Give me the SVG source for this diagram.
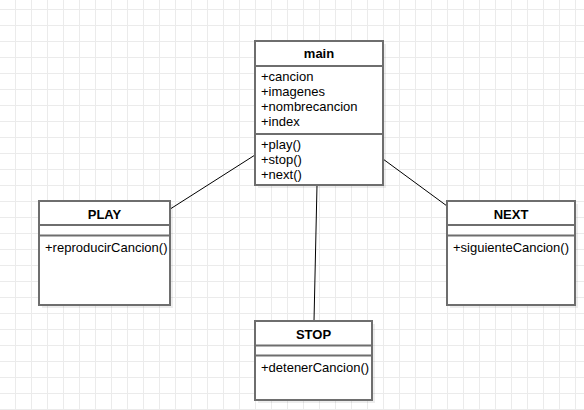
<svg xmlns="http://www.w3.org/2000/svg" width="584" height="410" viewBox="0 0 584 410">
  <defs>
    <pattern id="grid" patternUnits="userSpaceOnUse" x="15" y="9" width="16" height="16">
      <path d="M0 0.5 H16 M0.5 0 V16" fill="none" stroke="#ebebeb" stroke-width="1"/>
    </pattern>
    <style>
      .box { fill: #ffffff; stroke: #6e6e6e; stroke-width: 2; }
      .shadow { fill: #000000; fill-opacity: 0.07; stroke: none; }
      .sep { stroke: #6e6e6e; stroke-width: 2; fill: none; }
      .title { font-family: "Liberation Sans", Arial, sans-serif; font-size: 13px; font-weight: bold; fill: #000; text-anchor: middle; }
      .member { font-family: "Liberation Sans", Arial, sans-serif; font-size: 13px; fill: #000; }
      .conn { stroke: #000000; stroke-width: 1; fill: none; }
    </style>
  </defs>
  <rect x="0" y="0" width="584" height="410" fill="#ffffff"/>
  <rect x="0" y="0" width="584" height="410" fill="url(#grid)"/>

  <g id="connectors">
    <line class="conn" x1="255" y1="155" x2="171" y2="208.5"/>
    <line class="conn" x1="383" y1="159" x2="447" y2="206"/>
    <line class="conn" x1="317" y1="185" x2="314" y2="321"/>
  </g>

  <g id="main">
    <rect class="shadow" x="258" y="44" width="128" height="144"/>
    <rect class="box" x="255" y="41" width="128" height="144"/>
    <line class="sep" x1="255" y1="66" x2="383" y2="66"/>
    <line class="sep" x1="255" y1="134" x2="383" y2="134"/>
    <text class="title" x="319" y="58">main</text>
    <text class="member" x="261" y="80.5">+cancion</text>
    <text class="member" x="261" y="95.5">+imagenes</text>
    <text class="member" x="261" y="110.5">+nombrecancion</text>
    <text class="member" x="261" y="125.5">+index</text>
    <text class="member" x="261" y="148.5">+play()</text>
    <text class="member" x="261" y="163.5">+stop()</text>
    <text class="member" x="261" y="178.5">+next()</text>
  </g>

  <g id="play">
    <rect class="shadow" x="42" y="204" width="131" height="104"/>
    <rect class="box" x="39" y="201" width="131" height="104"/>
    <line class="sep" x1="39" y1="225" x2="170" y2="225"/>
    <line class="sep" x1="39" y1="235.5" x2="170" y2="235.5"/>
    <text class="title" x="104.5" y="218.5">PLAY</text>
    <text class="member" x="45" y="251.5">+reproducirCancion()</text>
  </g>

  <g id="next">
    <rect class="shadow" x="450" y="204" width="128" height="104"/>
    <rect class="box" x="447" y="201" width="128" height="104"/>
    <line class="sep" x1="447" y1="225" x2="575" y2="225"/>
    <line class="sep" x1="447" y1="235.5" x2="575" y2="235.5"/>
    <text class="title" x="511" y="218.5">NEXT</text>
    <text class="member" x="453" y="251.5">+siguienteCancion()</text>
  </g>

  <g id="stop">
    <rect class="shadow" x="258" y="324" width="117" height="79"/>
    <rect class="box" x="255" y="321" width="117" height="79"/>
    <line class="sep" x1="255" y1="345.5" x2="372" y2="345.5"/>
    <line class="sep" x1="255" y1="355.5" x2="372" y2="355.5"/>
    <text class="title" x="313.5" y="338.5">STOP</text>
    <text class="member" x="261" y="371.5">+detenerCancion()</text>
  </g>
</svg>
